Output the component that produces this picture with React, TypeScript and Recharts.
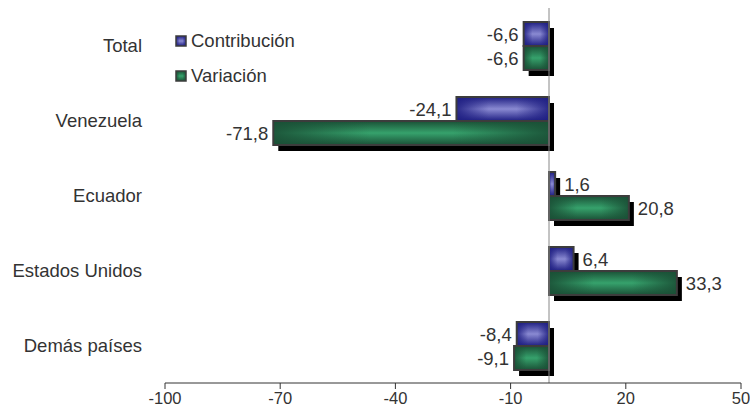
import { Bar, BarChart, LabelList, ReferenceLine, XAxis, YAxis } from "recharts";

const categories = ["Total", "Venezuela", "Ecuador", "Estados Unidos", "Demás países"];
const contribucion = [-6.6, -24.1, 1.6, 6.4, -8.4];
const variacion = [-6.6, -71.8, 20.8, 33.3, -9.1];
const xTicks = [-100, -70, -40, -10, 20, 50];

const data = categories.map((name, i) => ({
  name,
  contribucion: contribucion[i],
  variacion: variacion[i],
}));

const FONT = "'Liberation Sans', Arial, sans-serif";
const TEXT = "#333333";

const fmt = (v: number) => v.toFixed(1).replace(".", ",");

function ShadowBar(props: any) {
  const { x, y, width, height, gid } = props;
  if (width == null || height == null) return null;
  const left = Math.min(x, x + width);
  const w = Math.abs(width);
  return (
    <g>
      <rect x={left + 5} y={y + 6} width={w} height={height} fill="#000" />
      <rect x={left} y={y} width={w} height={height} fill={`url(#${gid}-v)`} />
      <rect x={left} y={y} width={w} height={height} fill={`url(#${gid}-h)`} stroke="#3c3c3c" strokeWidth={2} />
    </g>
  );
}

function ValueLabel(props: any) {
  const { x, y, width, height, value } = props;
  const left = Math.min(x, x + width);
  const right = Math.max(x, x + width);
  const neg = value < 0;
  return (
    <text
      x={neg ? left - 5 : right + 9}
      y={y + height / 2}
      textAnchor={neg ? "end" : "start"}
      dominantBaseline="central"
      fontSize={18.5}
      fill={TEXT}
      fontFamily={FONT}
    >
      {fmt(value)}
    </text>
  );
}

function LegendBox() {
  const items = [
    { label: "Contribución", gid: "blue" },
    { label: "Variación", gid: "green" },
  ];
  return (
    <div
      style={{
        position: "absolute",
        left: 175,
        top: 23,
        fontFamily: FONT,
        fontSize: 18.5,
        lineHeight: "20px",
        color: TEXT,
      }}
    >
      {items.map((it) => (
        <div key={it.label} style={{ display: "flex", alignItems: "center", height: 35 }}>
          <svg width={12} height={12} style={{ marginRight: 4 }}>
            <rect x={1} y={1} width={10} height={10} fill={`url(#${it.gid}-v)`} />
            <rect x={1} y={1} width={10} height={10} fill={`url(#${it.gid}-h)`} stroke="#3c3c3c" strokeWidth={1.5} />
          </svg>
          <span>{it.label}</span>
        </div>
      ))}
    </div>
  );
}

export default function App() {
  return (
    <div style={{ position: "absolute", left: 0, top: 0, width: 750, height: 412, background: "#fff" }}>
      <BarChart
        width={750}
        height={412}
        data={data}
        layout="vertical"
        margin={{ top: 8, right: 9, bottom: 0, left: 0 }}
        barSize={24}
        barGap={0}
      >
        <defs>
          <linearGradient id="blue-v" x1="0" y1="0" x2="0" y2="1">
            <stop offset="0%" stopColor="#1e1e82" />
            <stop offset="50%" stopColor="#8a8ad2" />
            <stop offset="100%" stopColor="#1e1e82" />
          </linearGradient>
          <linearGradient id="blue-h" x1="0" y1="0" x2="1" y2="0">
            <stop offset="0%" stopColor="#1e1e82" stopOpacity={0.9} />
            <stop offset="35%" stopColor="#1e1e82" stopOpacity={0} />
            <stop offset="65%" stopColor="#1e1e82" stopOpacity={0} />
            <stop offset="100%" stopColor="#1e1e82" stopOpacity={0.9} />
          </linearGradient>
          <linearGradient id="green-v" x1="0" y1="0" x2="0" y2="1">
            <stop offset="0%" stopColor="#1a5036" />
            <stop offset="50%" stopColor="#36a26c" />
            <stop offset="100%" stopColor="#1a5036" />
          </linearGradient>
          <linearGradient id="green-h" x1="0" y1="0" x2="1" y2="0">
            <stop offset="0%" stopColor="#1a5036" stopOpacity={0.9} />
            <stop offset="35%" stopColor="#1a5036" stopOpacity={0} />
            <stop offset="65%" stopColor="#1a5036" stopOpacity={0} />
            <stop offset="100%" stopColor="#1a5036" stopOpacity={0.9} />
          </linearGradient>
        </defs>
        <XAxis
          type="number"
          domain={[-100, 50]}
          ticks={xTicks}
          interval={0}
          height={29}
          tickSize={6}
          tickMargin={3}
          stroke="#333"
          tick={{ fill: TEXT, fontSize: 16.5, fontFamily: FONT }}
        />
        <YAxis
          type="category"
          dataKey="name"
          width={165}
          axisLine={false}
          tickLine={false}
          tickSize={0}
          tickMargin={23}
          tick={{ fill: TEXT, fontSize: 18.5, fontFamily: FONT }}
        />
        <Bar
          dataKey="contribucion"
          name="Contribución"
          isAnimationActive={false}
          shape={(p: any) => <ShadowBar {...p} gid="blue" />}
        >
          <LabelList dataKey="contribucion" content={ValueLabel} />
        </Bar>
        <Bar
          dataKey="variacion"
          name="Variación"
          isAnimationActive={false}
          shape={(p: any) => <ShadowBar {...p} gid="green" />}
        >
          <LabelList dataKey="variacion" content={ValueLabel} />
        </Bar>
        <ReferenceLine x={0} stroke="#888" strokeWidth={1} />
      </BarChart>
      <LegendBox />
    </div>
  );
}
